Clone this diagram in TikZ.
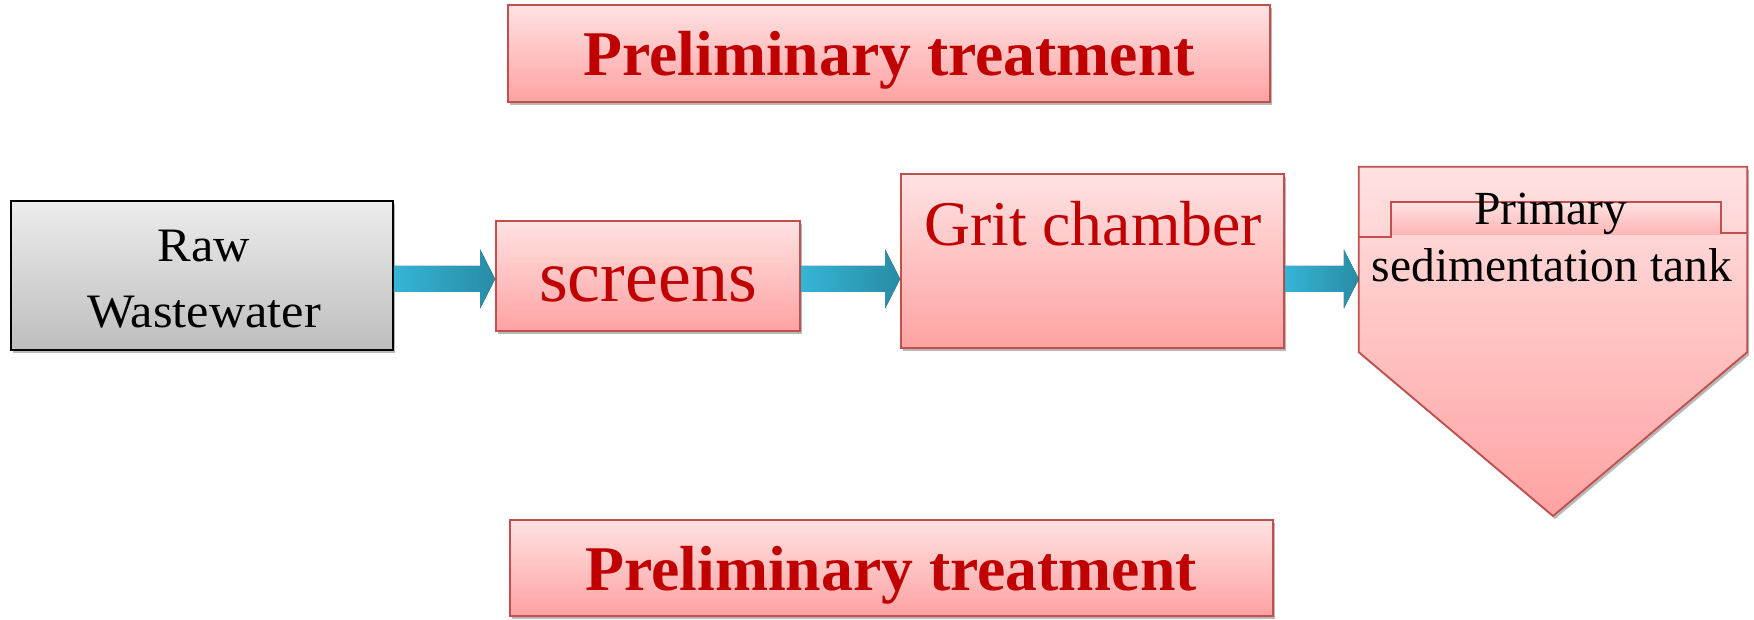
\documentclass[tikz,border=0pt]{standalone}
\usepackage{fontspec}
\setmainfont{Liberation Serif}
\newfontfamily\widefont[FakeStretch=1.05]{Liberation Serif}
\usetikzlibrary{calc,shadows}

\definecolor{boxred}{RGB}{192,80,77}
\definecolor{textred}{RGB}{192,0,0}
\definecolor{pinktop}{RGB}{255,226,226}
\definecolor{pinkbot}{RGB}{255,162,162}
\definecolor{tabbot}{RGB}{255,180,180}
\definecolor{greytop}{RGB}{236,236,236}
\definecolor{greybot}{RGB}{190,190,190}
\definecolor{arrowl}{RGB}{54,180,214}
\definecolor{arrowr}{RGB}{40,140,165}

\tikzset{
  softshadow/.style={drop shadow={shadow xshift=2pt, shadow yshift=-3pt, opacity=0.28, fill=black}},
  pinkbox/.style={draw=boxred, line width=1.8pt, top color=pinktop, bottom color=pinkbot,
                  softshadow, inner sep=0pt},
  greybox/.style={draw=black, line width=1.8pt, top color=greytop, bottom color=greybot,
                  softshadow, inner sep=0pt},
  flowarrow/.style={left color=arrowl, right color=arrowr, draw=none},
  headtext/.style={anchor=base, inner sep=0pt, text=textred,
                   font=\fontsize{63.7}{76}\selectfont\bfseries},
  steptext/.style={anchor=base, inner sep=0pt, text=textred},
  blacktext/.style={anchor=base, inner sep=0pt, text=black},
}

% block arrow drawn between two named nodes, on the common flow line "ay"
\newcommand\blockarrow[2]{%
  \coordinate (s) at (#1.east |- ay);
  \coordinate (e) at (#2.west |- ay);
  \fill[flowarrow] ($(s)+(0,-13)$) -- ($(e)+(-15,-13)$) -- ($(e)+(-15,-29.5)$) -- (e)
    -- ($(e)+(-15,29.5)$) -- ($(e)+(-15,13)$) -- ($(s)+(0,13)$) -- cycle;}

\begin{document}
\begin{tikzpicture}[x=1pt,y=-1pt]
\useasboundingbox (0,0) rectangle (1754,620);
\coordinate (ay) at (0,279);

% headings
\node[pinkbox, minimum width=762pt, minimum height=97pt] (head) at (889,53.5) {};
\node[headtext] (headlbl) at (889,76) {Preliminary treatment};
\node[pinkbox, minimum width=763pt, minimum height=96pt] (foot) at (891.5,568) {};
\node[headtext] (footlbl) at (891,590) {Preliminary treatment};

% raw wastewater
\node[greybox, minimum width=382pt, minimum height=149pt] (raw) at (202,275.5) {};
\node[blacktext, font=\widefont\fontsize{48}{65}\selectfont] (rawa) at (204,262) {Raw};
\node[blacktext, font=\widefont\fontsize{48}{65}\selectfont] (rawb) at (204,327) {Wastewater};

% screens
\node[pinkbox, minimum width=304pt, minimum height=110pt] (scr) at (648,276) {};
\node[steptext, font=\fontsize{74}{86}\selectfont] (scrlbl) at (648,302) {screens};

% grit chamber
\node[pinkbox, minimum width=383pt, minimum height=174pt] (grit) at (1092.5,261) {};
\node[steptext, font=\fontsize{63.7}{76}\selectfont] (gritlbl) at (1093,246) {Grit chamber};

% primary sedimentation tank: rectangular body with a pointed hopper
\node[minimum width=388pt, minimum height=185pt, inner sep=0pt] (tank) at (1553,259.5) {};
\coordinate (tip) at (1553,516);
\path[draw=boxred, line width=1.8pt, top color=pinktop, bottom color=pinkbot, softshadow]
  (tank.north west) -- (tank.north east) -- (tank.south east) -- (tip)
  -- (tank.south west) -- cycle;
\shade[top color=pinktop, bottom color=tabbot] (1391,202) rectangle (1721,235);
\draw[boxred, line width=1.8pt] (tank.west |- 0,237) -- (1391,237) -- (1391,202)
  -- (1721,202) -- (1721,233) -- (tank.east |- 0,233);
\node[blacktext, font=\fontsize{47.5}{57}\selectfont] (tanka) at (1551,225) {Primary};
\node[blacktext, font=\fontsize{47.5}{57}\selectfont] (tankb) at (1552,282) {sedimentation tank};

% flow arrows
\blockarrow{raw}{scr}
\blockarrow{scr}{grit}
\blockarrow{grit}{tank}
\end{tikzpicture}
\end{document}
